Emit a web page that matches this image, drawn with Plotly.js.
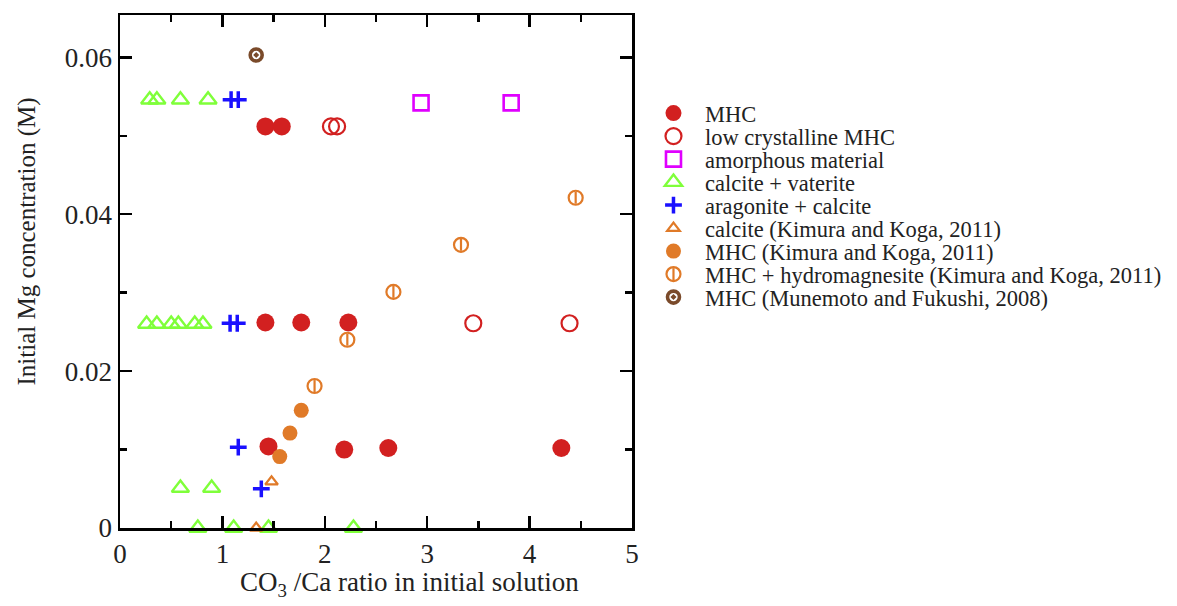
<!DOCTYPE html>
<html>
<head>
<meta charset="utf-8">
<script src="https://cdn.plot.ly/plotly-3.0.1.min.js"></script>
<style>
  html, body { margin: 0; padding: 0; background: #fff; }
  #chart { width: 1177px; height: 606px; }
</style>
</head>
<body>
<div id="chart"></div>
<script>
// CO3/Ca ratio (x) and initial Mg concentration in M (y) for each precipitate class
const mhcX = [1.42, 1.58, 1.42, 1.77, 2.23, 1.45, 2.19, 2.62, 4.31];
const mhcY = [0.0512, 0.0512, 0.0262, 0.0262, 0.0262, 0.0104, 0.0100, 0.0102, 0.0102];

const lowMhcX = [2.06, 2.12, 3.45, 4.39];
const lowMhcY = [0.0512, 0.0512, 0.0261, 0.0261];

const amorphX = [2.94, 3.82];
const amorphY = [0.0542, 0.0542];

const calVatX = [0.29, 0.36, 0.59, 0.86, 0.26, 0.36, 0.50, 0.57, 0.73, 0.81, 0.59, 0.895, 0.76, 1.11, 1.45, 2.28];
const calVatY = [0.0546, 0.0546, 0.0546, 0.0546, 0.0260, 0.0260, 0.0260, 0.0260, 0.0260, 0.0260, 0.0051, 0.0051, 0, 0, 0, 0];

const aragX = [1.085, 1.155, 1.075, 1.145, 1.155, 1.38];
const aragY = [0.0546, 0.0546, 0.0261, 0.0261, 0.0103, 0.0050];

const kkCalX = [1.48, 1.33];
const kkCalY = [0.0059, 0];

const kkMhcX = [1.56, 1.66, 1.77];
const kkMhcY = [0.0091, 0.0121, 0.0150];

const kkHydX = [1.90, 2.22, 2.67, 3.33, 4.45];
const kkHydY = [0.0181, 0.0240, 0.0301, 0.0361, 0.0421];

const mfX = [1.33];
const mfY = [0.0603];

const names = [
  'MHC',
  'low crystalline MHC',
  'amorphous material',
  'calcite + vaterite',
  'aragonite + calcite',
  'calcite (Kimura and Koga, 2011)',
  'MHC (Kimura and Koga, 2011)',
  'MHC + hydromagnesite (Kimura and Koga, 2011)',
  'MHC (Munemoto and Fukushi, 2008)'
];

const xTitle = 'CO<sub>3</sub> /Ca ratio in initial solution';
const yTitle = 'Initial Mg concentration (M)';

const RED = '#d22020';
const MAGENTA = '#e000ff';
const GREEN = '#7fff3a';
const BLUE = '#1a10ff';
const ORANGE = '#e07a28';
const BROWN = '#7a4a2a';

function pts(x, y, name, marker, extra) {
  return Object.assign({
    type: 'scatter', mode: 'markers', x: x, y: y, name: name,
    marker: marker, hoverinfo: 'x+y+name', cliponaxis: false
  }, extra || {});
}

const traces = [
  pts(mhcX, mhcY, names[0], {symbol: 'circle', size: 18, color: RED, line: {width: 0}}),
  pts(lowMhcX, lowMhcY, names[1], {symbol: 'circle-open', size: 16, color: RED, line: {width: 2.2, color: RED}}),
  pts(amorphX, amorphY, names[2], {symbol: 'square-open', size: 15, color: MAGENTA, line: {width: 2.6, color: MAGENTA}}),
  pts(calVatX, calVatY, names[3], {symbol: 'triangle-up-open', size: 15, color: GREEN, line: {width: 2.4, color: GREEN}}),
  pts(aragX, aragY, names[4], {symbol: 'cross-thin-open', size: 12, color: BLUE, line: {width: 3.5, color: BLUE}}),
  pts(kkCalX, kkCalY, names[5], {symbol: 'triangle-up-open', size: 11, color: ORANGE, line: {width: 2.2, color: ORANGE}}),
  pts(kkMhcX, kkMhcY, names[6], {symbol: 'circle', size: 15, color: ORANGE, line: {width: 0}}),
  pts(kkHydX, kkHydY, names[7], {symbol: 'circle-open', size: 14, color: ORANGE, line: {width: 2.2, color: ORANGE}},
      {legendgroup: 'hyd'}),
  // vertical bar inside the hydromagnesite circles (its legend symbol is stacked on the circle above)
  pts(kkHydX, kkHydY, '', {symbol: 'line-ns-open', size: 8.5, color: ORANGE, line: {width: 2.2, color: ORANGE}},
      {legendgroup: 'hyd', hoverinfo: 'skip'}),
  pts(mfX, mfY, names[8], {symbol: 'circle-open-dot', size: 12, color: BROWN, line: {width: 3.6, color: BROWN}})
];

const SERIF = 'Liberation Serif';

const axisCommon = {
  showgrid: false, zeroline: false,
  showline: true, linecolor: '#000', linewidth: 2.5, mirror: 'ticks',
  ticks: 'inside', ticklen: 12, tickwidth: 2.5, tickcolor: '#000',
  tickfont: {family: SERIF, size: 27, color: '#222'}
};

const layout = {
  width: 1177, height: 606,
  margin: {l: 120, r: 545, t: 15, b: 78, autoexpand: false},
  paper_bgcolor: '#fff', plot_bgcolor: '#fff',
  font: {family: SERIF, size: 22, color: '#222'},
  showlegend: true,
  xaxis: Object.assign({}, axisCommon, {
    range: [0, 5], tick0: 0, dtick: 1,
    minor: {dtick: 0.5, ticks: 'inside', ticklen: 7, tickwidth: 2.5, tickcolor: '#000'}
  }),
  yaxis: Object.assign({}, axisCommon, {
    range: [0, 0.0654], tick0: 0, dtick: 0.02,
    minor: {dtick: 0.01, ticks: 'inside', ticklen: 7, tickwidth: 2.5, tickcolor: '#000'}
  }),
  // axis titles sit off-centre relative to the frame, so they are placed as annotations
  annotations: [
    {text: xTitle, xref: 'paper', yref: 'paper', x: 0.5654, y: -0.109,
     xanchor: 'center', yanchor: 'middle', showarrow: false,
     font: {family: SERIF, size: 27, color: '#222'}},
    {text: yTitle, xref: 'paper', yref: 'paper', x: -0.1816, y: 0.5585, textangle: -90,
     xanchor: 'center', yanchor: 'middle', showarrow: false,
     font: {family: SERIF, size: 25, color: '#222'}}
  ],
  legend: {
    x: 1.0195, xanchor: 'left', y: 0.85, yanchor: 'top',
    font: {family: SERIF, size: 22.5, color: '#222'},
    bgcolor: 'rgba(0,0,0,0)', borderwidth: 0,
    itemwidth: 53, tracegroupgap: 0
  }
};

Plotly.newPlot('chart', traces, layout, {displayModeBar: false, staticPlot: true}).then(function (gd) {
  // lay the legend rows out at a fixed pitch; the unnamed bar entry shares the row of its circle
  const rows = Array.from(gd.querySelectorAll('.legend .traces'));
  if (!rows.length) return;
  const m = /translate\(([-\d.]+)[ ,]+([-\d.]+)\)/.exec(rows[0].getAttribute('transform') || '');
  if (!m) return;
  const x0 = parseFloat(m[1]), y0 = parseFloat(m[2]);
  let slot = 0;
  rows.forEach(function (row) {
    const d = row.__data__ && row.__data__[0] && row.__data__[0].trace;
    const isBar = d && d.name === '';
    if (isBar) slot -= 1;
    row.setAttribute('transform', 'translate(' + x0 + ',' + (y0 + slot * 23) + ')');
    slot += 1;
  });
  // groups are stacked in separate containers; put them all on a common origin
  gd.querySelectorAll('.legend .groups').forEach(function (g) {
    g.setAttribute('transform', 'translate(0,0)');
  });
});
</script>
</body>
</html>
